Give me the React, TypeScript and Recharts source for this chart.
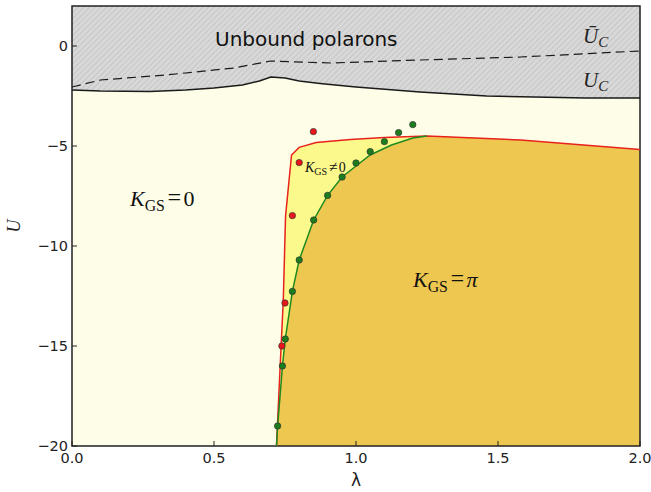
import React from 'react';
import {
  ComposedChart,
  Area,
  Line,
  Scatter,
  XAxis,
  YAxis,
  CartesianGrid,
  ReferenceArea,
} from 'recharts';

// critical U_C (solid) and bar U_C (dashed)
const ucSolid = [
  { x: 0.0, y: -2.2 },
  { x: 0.1, y: -2.25 },
  { x: 0.275, y: -2.28 },
  { x: 0.4, y: -2.2 },
  { x: 0.5, y: -2.1 },
  { x: 0.6, y: -1.95 },
  { x: 0.66, y: -1.75 },
  { x: 0.7, y: -1.55 },
  { x: 0.75, y: -1.6 },
  { x: 0.8, y: -1.75 },
  { x: 0.873, y: -1.87 },
  { x: 1.0, y: -2.05 },
  { x: 1.225, y: -2.3 },
  { x: 1.46, y: -2.5 },
  { x: 1.81, y: -2.6 },
  { x: 2.0, y: -2.6 },
];

const ucDashed = [
  { x: 0.0, y: -2.05 },
  { x: 0.1, y: -1.7 },
  { x: 0.33, y: -1.45 },
  { x: 0.57, y: -1.1 },
  { x: 0.7, y: -0.75 },
  { x: 0.91, y: -0.85 },
  { x: 1.225, y: -0.7 },
  { x: 1.58, y: -0.55 },
  { x: 2.0, y: -0.25 },
];

// boundary of the K_GS != 0 region (red) and of the K_GS = pi region (green)
const redBoundary = [
  { x: 0.72, y: -20 },
  { x: 0.733, y: -16 },
  { x: 0.744, y: -12.7 },
  { x: 0.752, y: -8.5 },
  { x: 0.773, y: -5.45 },
  { x: 0.8, y: -5.07 },
  { x: 0.86, y: -4.83 },
  { x: 0.98, y: -4.67 },
  { x: 1.1, y: -4.57 },
  { x: 1.25, y: -4.5 },
  { x: 1.58, y: -4.7 },
  { x: 2.0, y: -5.17 },
];

const greenBoundary = [
  { x: 0.72, y: -20 },
  { x: 0.724, y: -19 },
  { x: 0.741, y: -16 },
  { x: 0.751, y: -14.65 },
  { x: 0.776, y: -12.27 },
  { x: 0.8, y: -10.7 },
  { x: 0.851, y: -8.7 },
  { x: 0.9, y: -7.47 },
  { x: 0.951, y: -6.55 },
  { x: 1.0, y: -6.0 },
  { x: 1.05, y: -5.45 },
  { x: 1.125, y: -4.95 },
  { x: 1.2, y: -4.6 },
  { x: 1.25, y: -4.5 },
];

const piRegion = [
  ...greenBoundary,
  { x: 1.58, y: -4.7 },
  { x: 2.0, y: -5.17 },
];

const redDots = [
  { x: 0.739, y: -15 },
  { x: 0.75, y: -12.85 },
  { x: 0.776, y: -8.48 },
  { x: 0.8, y: -5.83 },
  { x: 0.85, y: -4.28 },
];

const greenDots = [
  { x: 0.724, y: -19 },
  { x: 0.741, y: -16 },
  { x: 0.751, y: -14.65 },
  { x: 0.776, y: -12.27 },
  { x: 0.8, y: -10.7 },
  { x: 0.851, y: -8.7 },
  { x: 0.9, y: -7.47 },
  { x: 0.951, y: -6.55 },
  { x: 1.0, y: -5.85 },
  { x: 1.05, y: -5.28 },
  { x: 1.1, y: -4.78 },
  { x: 1.15, y: -4.33 },
  { x: 1.2, y: -3.93 },
];

const xTicks = [0, 0.5, 1.0, 1.5, 2.0];
const yTicks = [-20, -15, -10, -5, 0];

const W = 651;
const H = 492;
const sans = '"DejaVu Sans", sans-serif';
const serif = '"Liberation Serif", "DejaVu Serif", serif';

const BottomTick = (props: any) => {
  const { x, y, payload } = props;
  return (
    <g>
      <line x1={x} x2={x} y1={y} y2={y - 5} stroke="#222" strokeWidth={1} />
      <text x={x} y={y + 17} textAnchor="middle" fontFamily={sans} fontSize={14.5} fill="#222">
        {Number(payload.value).toFixed(1)}
      </text>
    </g>
  );
};

const TopTick = (props: any) => {
  const { x, y } = props;
  return <line x1={x} x2={x} y1={y} y2={y + 5} stroke="#222" strokeWidth={1} />;
};

const LeftTick = (props: any) => {
  const { x, y, payload } = props;
  const v = Number(payload.value);
  return (
    <g>
      <line x1={x} x2={x + 5} y1={y} y2={y} stroke="#222" strokeWidth={1} />
      <text x={x - 4} y={y + 5} textAnchor="end" fontFamily={sans} fontSize={14.5} fill="#222">
        {v < 0 ? `\u2212${Math.abs(v)}` : `${v}`}
      </text>
    </g>
  );
};

const RightTick = (props: any) => {
  const { x, y } = props;
  return <line x1={x} x2={x - 5} y1={y} y2={y} stroke="#222" strokeWidth={1} />;
};

const Dot = (color: string) => (props: any) => {
  const { cx, cy } = props;
  return <circle cx={cx} cy={cy} r={3.2} fill={color} stroke="#333" strokeWidth={0.7} />;
};

const KLabel = ({ x, y, size, op, val, italicVal }: { x: number; y: number; size: number; op: string; val: string; italicVal?: boolean }) => (
  <text x={x} y={y} fontFamily={serif} fontSize={size} fill="#111">
    <tspan fontStyle="italic">K</tspan>
    <tspan fontSize={size * 0.72} dy={size * 0.22}>GS</tspan>
    <tspan dy={-size * 0.22} dx={size * 0.12} fontSize={size * 1.1}>{op}</tspan>
    <tspan dx={size * 0.1} fontStyle={italicVal ? 'italic' : 'normal'}>{val}</tspan>
  </text>
);

export default function App() {
  return (
    <div style={{ position: 'absolute', left: 0, top: 0, width: W, height: H, background: '#fff' }}>
      <ComposedChart width={W} height={H} margin={{ top: 6, right: 11, bottom: 0, left: 0 }}>
        <defs>
          <pattern id="hatch" width={4} height={4} patternUnits="userSpaceOnUse" patternTransform="rotate(45)">
            <rect width={4} height={4} fill="#d8d8d8" />
            <line x1={0} y1={0} x2={0} y2={4} stroke="#b8b8b8" strokeWidth={1.1} />
          </pattern>
        </defs>
        <CartesianGrid fill="#fefee8" stroke="none" />
        <XAxis
          xAxisId={0}
          type="number"
          dataKey="x"
          domain={[0, 2]}
          ticks={xTicks}
          height={46}
          tickSize={0}
          tickMargin={0}
          tickLine={false}
          axisLine={false}
          tick={<BottomTick />}
          allowDataOverflow
        />
        <XAxis
          xAxisId="top"
          orientation="top"
          type="number"
          domain={[0, 2]}
          ticks={xTicks}
          height={0}
          tickSize={0}
          tickMargin={0}
          tickLine={false}
          axisLine={false}
          tick={<TopTick />}
          allowDataOverflow
        />
        <YAxis
          yAxisId={0}
          type="number"
          dataKey="y"
          domain={[-20, 2]}
          ticks={yTicks}
          width={72}
          tickSize={0}
          tickMargin={0}
          tickLine={false}
          axisLine={false}
          tick={<LeftTick />}
          allowDataOverflow
        />
        <YAxis
          yAxisId="right"
          orientation="right"
          type="number"
          domain={[-20, 2]}
          ticks={yTicks}
          width={0}
          tickSize={0}
          tickMargin={0}
          tickLine={false}
          axisLine={false}
          tick={<RightTick />}
          allowDataOverflow
        />

        <Area data={ucSolid} dataKey="y" type="linear" baseValue={2} fill="url(#hatch)" fillOpacity={1} stroke="none" isAnimationActive={false} />
        <Area data={redBoundary} dataKey="y" type="linear" baseValue={-20} fill="#fcf98c" fillOpacity={1} stroke="none" isAnimationActive={false} />
        <Area data={piRegion} dataKey="y" type="linear" baseValue={-20} fill="#eec750" fillOpacity={1} stroke="none" isAnimationActive={false} />

        <Line data={ucSolid} dataKey="y" type="linear" stroke="#1a1a1a" strokeWidth={1.5} dot={false} isAnimationActive={false} />
        <Line data={ucDashed} dataKey="y" type="linear" stroke="#1a1a1a" strokeWidth={1.2} strokeDasharray="9 5" dot={false} isAnimationActive={false} />
        <Line data={redBoundary} dataKey="y" type="linear" stroke="#e8221c" strokeWidth={1.5} dot={false} isAnimationActive={false} />
        <Line data={greenBoundary} dataKey="y" type="linear" stroke="#1f8a1f" strokeWidth={1.5} dot={false} isAnimationActive={false} />

        <Scatter data={redDots} dataKey="y" shape={Dot('#e8161a')} isAnimationActive={false} />
        <Scatter data={greenDots} dataKey="y" shape={Dot('#1b7d1b')} isAnimationActive={false} />

        <ReferenceArea x1={0} x2={2} y1={-20} y2={2} fill="none" stroke="#222" strokeWidth={1.5} />
      </ComposedChart>

      <svg width={W} height={H} style={{ position: 'absolute', left: 0, top: 0, pointerEvents: 'none' }}>
        <text x={215} y={46} fontFamily={sans} fontSize={20} fill="#111">Unbound polarons</text>
        <KLabel x={130} y={206} size={22} op="=" val="0" />
        <KLabel x={413} y={287} size={22} op="=" val="π" italicVal />
        <KLabel x={305} y={172} size={14} op="≠" val="0" />
        <text x={583} y={43} fontFamily={serif} fontSize={21} fill="#222">
          <tspan fontStyle="italic">Ū</tspan>
          <tspan fontStyle="italic" fontSize={15} dy={4}>C</tspan>
        </text>
        <text x={583} y={87} fontFamily={serif} fontSize={21} fill="#222">
          <tspan fontStyle="italic">U</tspan>
          <tspan fontStyle="italic" fontSize={15} dy={4}>C</tspan>
        </text>
        <text x={356} y={486} textAnchor="middle" fontFamily={sans} fontSize={17} fill="#222">λ</text>
        <text x={20} y={226} textAnchor="middle" fontFamily={serif} fontStyle="italic" fontSize={18} fill="#222" transform="rotate(-90 20 226)">U</text>
      </svg>
    </div>
  );
}
